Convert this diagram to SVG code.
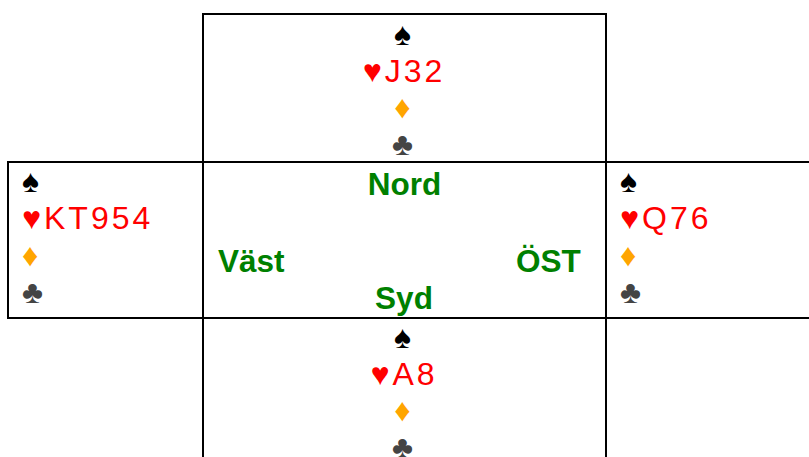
<svg xmlns="http://www.w3.org/2000/svg" width="809" height="457" viewBox="0 0 809 457">
<style>
.box{fill:#fff;stroke:#000;stroke-width:2}
.h{font-family:"Liberation Sans",Arial,sans-serif;font-size:32px;letter-spacing:3px}
.s{fill:#000}.r{fill:#ff0000}.d{fill:#ffa500}.c{fill:#444}
.lbl{font-family:"Liberation Sans",Arial,sans-serif;font-size:31.5px;font-weight:bold;fill:#008000}
.m{text-anchor:middle}
</style>
<rect width="809" height="457" fill="#fff"/>
<g id="north">
<rect class="box" x="203" y="14" width="403" height="148"/>
<text class="h s m" x="404" y="45">♠</text>
<text class="h r m" x="404" y="82">♥J32</text>
<text class="h d m" x="404" y="118">♦</text>
<text class="h c m" x="404" y="155">♣</text>
</g>
<g id="west">
<rect class="box" x="8" y="162" width="195" height="156"/>
<text class="h s" x="22" y="192">♠</text>
<text class="h r" x="22" y="229">♥KT954</text>
<text class="h d" x="22" y="266">♦</text>
<text class="h c" x="22" y="303">♣</text>
</g>
<g id="east">
<rect class="box" x="606" y="162" width="210" height="156"/>
<text class="h s" x="620" y="192">♠</text>
<text class="h r" x="620" y="229">♥Q76</text>
<text class="h d" x="620" y="266">♦</text>
<text class="h c" x="620" y="303">♣</text>
</g>
<g id="south">
<rect class="box" x="203" y="318" width="403" height="150"/>
<text class="h s m" x="404" y="348">♠</text>
<text class="h r m" x="404" y="385">♥A8</text>
<text class="h d m" x="404" y="421">♦</text>
<text class="h c m" x="404" y="458">♣</text>
</g>
<g id="table">
<rect class="box" x="203" y="162" width="403" height="156"/>
<text class="lbl m" x="404.5" y="195">Nord</text>
<text class="lbl" x="218" y="272">Väst</text>
<text class="lbl" x="516" y="272">ÖST</text>
<text class="lbl m" x="404" y="309">Syd</text>
</g>
<g id="connectors"/>
</svg>
